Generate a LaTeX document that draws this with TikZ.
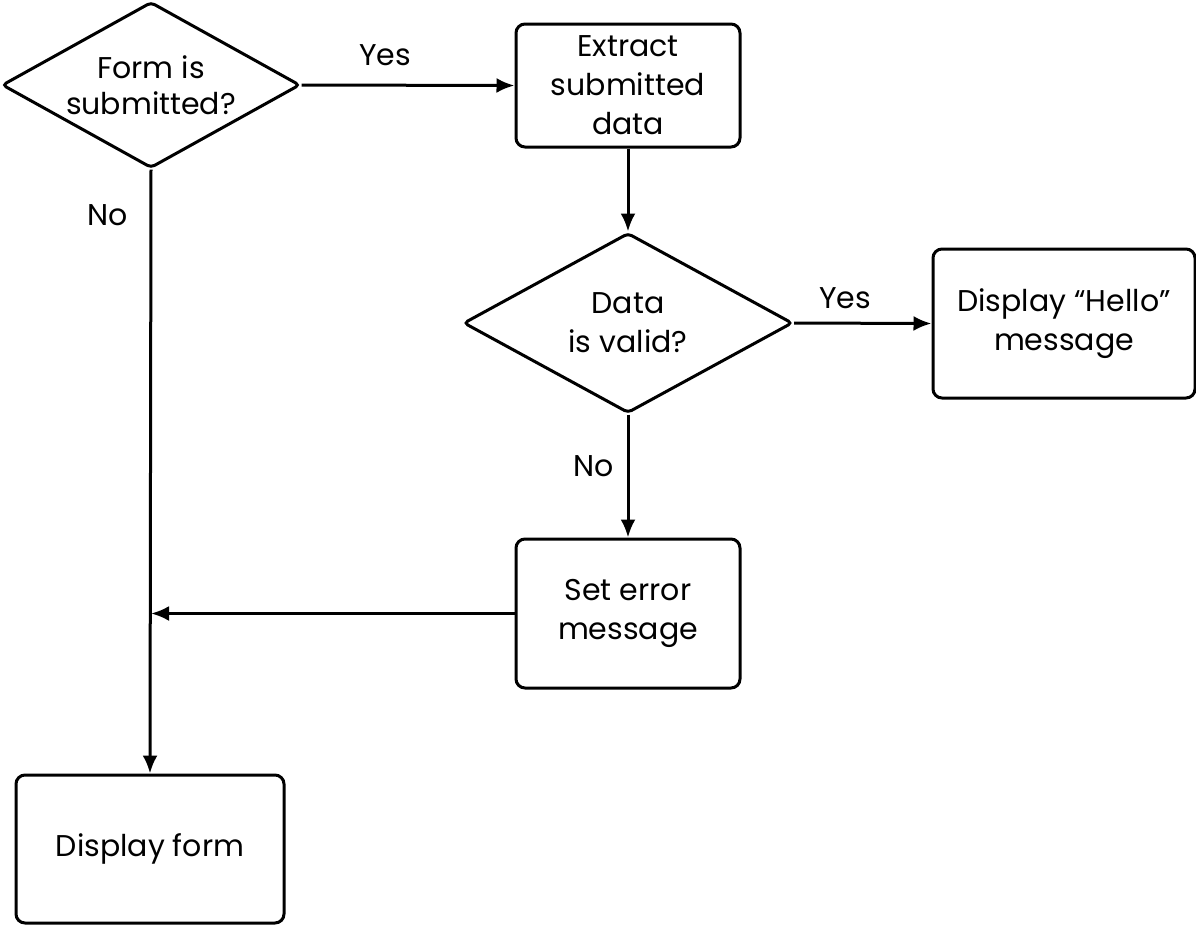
\documentclass[tikz,border=0pt]{standalone}
\usepackage{fontspec}
\setmainfont{Poppins}
\usetikzlibrary{shapes.geometric,arrows.meta}
\begin{document}
\begin{tikzpicture}[x=1pt,y=-1pt,
  every node/.style={font=\fontsize{30}{39}\selectfont},
  box/.style={draw, line width=3pt, rounded corners=9pt, align=center, inner sep=0pt},
  dec/.style={draw, diamond, line width=3pt, align=center, inner sep=0pt, rounded corners=4pt},
  arr/.style={line width=3pt, -{Latex[length=18pt,width=15pt]}},
  lbl/.style={inner sep=0pt}]
\useasboundingbox (0,0) rectangle (1196,927);
\node[dec, aspect=1.8, minimum width=298pt, minimum height=166pt, font=\fontsize{30}{36}\selectfont] (d1) at (151,85) {Form is\\submitted?};
\node[box, minimum width=224pt, minimum height=123pt] (ext) at (628,85.5) {Extract\\submitted\\data};
\node[dec, aspect=1.83, minimum width=329pt, minimum height=180pt] (d2) at (628,323) {Data\\is valid?};
\node[box, minimum width=262pt, minimum height=149pt] (hello) at (1064,323.5) {Display “Hello”\\message};
\node[box, minimum width=224pt, minimum height=149pt] (err) at (628,613.5) {Set error\\message};
\node[box, minimum width=268pt, minimum height=148pt] (form) at (150,849) {Display form};
\node[lbl] (y1) at (385,55) {Yes};
\node[lbl] (n1) at (108,215) {No};
\node[lbl] (y2) at (845,298) {Yes};
\node[lbl] (n2) at (594,466) {No};
\draw[arr] (d1.east) -- (ext.west);
\draw[arr] (ext.south) -- (d2.north);
\draw[arr] (d2.east) -- (hello.west);
\draw[arr] (d2.south) -- (err.north);
\draw[arr] (d1.south) -- (form.north);
\draw[arr] (err.west) -- (err.west -| d1.south);
\end{tikzpicture}
\end{document}
